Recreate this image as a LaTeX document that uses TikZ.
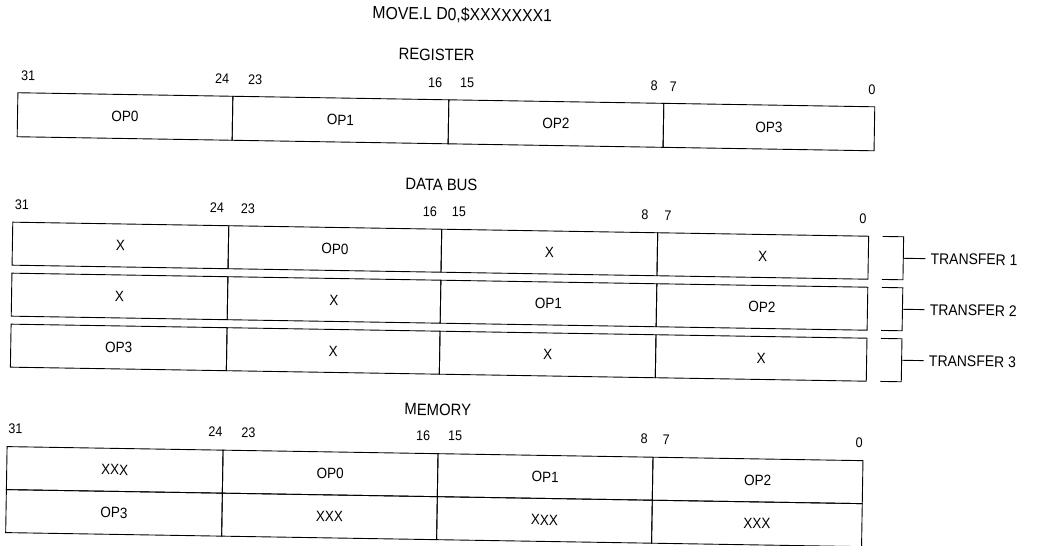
\documentclass[tikz,border=0pt]{standalone}
\usepackage{fontspec}
\setmainfont{Liberation Sans}[FakeStretch=0.9]
\begin{document}
\begin{tikzpicture}[x=1pt,y=-1pt,line width=0.9pt,
  cell/.style={draw, inner sep=0pt, font=\fontsize{15}{17}\selectfont},
  bit/.style={inner sep=0pt, font=\fontsize{14}{16}\selectfont},
  head/.style={inner sep=0pt, font=\fontsize{16.5}{18}\selectfont},
  xfer/.style={inner sep=0pt, anchor=west, font=\fontsize{15.5}{17}\selectfont}]
\useasboundingbox (0,0) rectangle (1039,546);
\begin{scope}[rotate around={-0.94:(520,273)}, transform shape]
% title
\node[head, font=\fontsize{17.5}{19}\selectfont] (title) at (458,16) {MOVE.L D0,\$XXXXXXX1};
% ---------- REGISTER ----------
\node[head] (reg) at (433,56) {REGISTER};
\node[bit] (r31) at (25,84) {31};
\node[bit] (r24) at (219,84) {24};
\node[bit] (r23) at (252,84) {23};
\node[bit] (r16) at (432,84) {16};
\node[bit] (r15) at (464,84) {15};
\node[bit] (r8) at (651,84) {8};
\node[bit] (r7) at (670,84) {7};
\node[bit] (r0) at (869,84) {0};
\node[cell, minimum width=215pt, minimum height=44pt] (ra) at (122.5,123) {OP0};
\node[cell, minimum width=216pt, minimum height=44pt] (rb) at (338,123) {OP1};
\node[cell, minimum width=215pt, minimum height=44pt] (rc) at (553.5,123) {OP2};
\node[cell, minimum width=211pt, minimum height=44pt] (rd) at (766.5,123) {OP3};
% ---------- DATA BUS ----------
\node[head] (db) at (440,186) {DATA BUS};
\node[bit] (d31) at (21,213) {31};
\node[bit] (d24) at (216,213) {24};
\node[bit] (d23) at (247,213) {23};
\node[bit] (d16) at (429,213) {16};
\node[bit] (d15) at (458,213) {15};
\node[bit] (d8) at (644,213) {8};
\node[bit] (d7) at (667,213) {7};
\node[bit] (d0) at (862,213) {0};
% transfer 1
\node[cell, minimum width=216pt, minimum height=43pt] (a1) at (120,252) {X};
\node[cell, minimum width=213pt, minimum height=43pt] (a2) at (334.5,252) {OP0};
\node[cell, minimum width=216pt, minimum height=43pt] (a3) at (549,252) {X};
\node[cell, minimum width=211pt, minimum height=43pt] (a4) at (762.5,252) {X};
% transfer 2
\node[cell, minimum width=216pt, minimum height=43pt] (b1) at (120,303) {X};
\node[cell, minimum width=213pt, minimum height=43pt] (b2) at (334.5,303) {X};
\node[cell, minimum width=216pt, minimum height=43pt] (b3) at (549,303) {OP1};
\node[cell, minimum width=211pt, minimum height=43pt] (b4) at (762.5,303) {OP2};
% transfer 3
\node[cell, minimum width=216pt, minimum height=43pt] (c1) at (120,354) {OP3};
\node[cell, minimum width=213pt, minimum height=43pt] (c2) at (334.5,354) {X};
\node[cell, minimum width=216pt, minimum height=43pt] (c3) at (549,354) {X};
\node[cell, minimum width=211pt, minimum height=43pt] (c4) at (762.5,354) {X};
% brackets
\node[xfer] (t1) at (930,252) {TRANSFER 1};
\node[xfer] (t2) at (930,303) {TRANSFER 2};
\node[xfer] (t3) at (930,354) {TRANSFER 3};
\draw (882,230.5) -| (903,273.5) -- (882,273.5);
\draw (882,281.5) -| (903,324.5) -- (882,324.5);
\draw (882,332.5) -| (903,375.5) -- (882,375.5);
\coordinate (k1) at (903,252);
\coordinate (k2) at (903,303);
\coordinate (k3) at (903,354);
\draw (k1) -- ([xshift=-5pt]t1.west);
\draw (k2) -- ([xshift=-5pt]t2.west);
\draw (k3) -- ([xshift=-5pt]t3.west);
% ---------- MEMORY ----------
\node[head] (mem) at (440,411) {MEMORY};
\node[bit] (m31) at (18,437) {31};
\node[bit] (m24) at (218,437) {24};
\node[bit] (m23) at (251,437) {23};
\node[bit] (m16) at (426,437) {16};
\node[bit] (m15) at (458,437) {15};
\node[bit] (m8) at (647,437) {8};
\node[bit] (m7) at (669,437) {7};
\node[bit] (m0) at (862,437) {0};
\node[cell, minimum width=216pt, minimum height=43pt] (p1) at (118,476.5) {XXX};
\node[cell, minimum width=215pt, minimum height=43pt] (p2) at (333.5,476.5) {OP0};
\node[cell, minimum width=215pt, minimum height=43pt] (p3) at (548.5,476.5) {OP1};
\node[cell, minimum width=210pt, minimum height=43pt] (p4) at (761,476.5) {OP2};
\node[cell, minimum width=216pt, minimum height=43pt] (q1) at (118,519.5) {OP3};
\node[cell, minimum width=215pt, minimum height=43pt] (q2) at (333.5,519.5) {XXX};
\node[cell, minimum width=215pt, minimum height=43pt] (q3) at (548.5,519.5) {XXX};
\node[cell, minimum width=210pt, minimum height=43pt] (q4) at (761,519.5) {XXX};
\end{scope}
\end{tikzpicture}
\end{document}
